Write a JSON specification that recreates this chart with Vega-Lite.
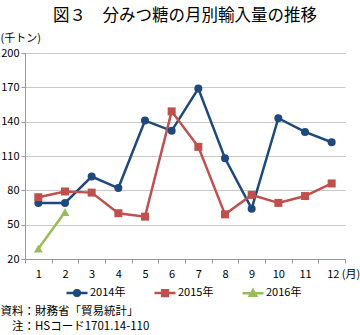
{
  "$schema": "https://vega.github.io/schema/vega-lite/v6.json",
  "width": 320,
  "height": 206,
  "autosize": "none",
  "padding": {"left": 25, "top": 53, "right": 15, "bottom": 76},
  "background": "white",
  "config": {"font": "Noto Sans CJK JP", "view": {"stroke": null}},
  "title": {"text": "図３　分みつ糖の月別輸入量の推移", "fontSize": 16.5, "fontWeight": "normal", "font": "Noto Sans CJK JP", "color": "#000", "anchor": "middle", "offset": 8},
  "data": {"values": [
    {"month": 1, "year": "2014年", "value": 69},
    {"month": 2, "year": "2014年", "value": 69},
    {"month": 3, "year": "2014年", "value": 92},
    {"month": 4, "year": "2014年", "value": 82},
    {"month": 5, "year": "2014年", "value": 141},
    {"month": 6, "year": "2014年", "value": 132},
    {"month": 7, "year": "2014年", "value": 169},
    {"month": 8, "year": "2014年", "value": 108},
    {"month": 9, "year": "2014年", "value": 64},
    {"month": 10, "year": "2014年", "value": 143},
    {"month": 11, "year": "2014年", "value": 131},
    {"month": 12, "year": "2014年", "value": 122},
    {"month": 1, "year": "2015年", "value": 74},
    {"month": 2, "year": "2015年", "value": 79},
    {"month": 3, "year": "2015年", "value": 78},
    {"month": 4, "year": "2015年", "value": 60},
    {"month": 5, "year": "2015年", "value": 57},
    {"month": 6, "year": "2015年", "value": 149},
    {"month": 7, "year": "2015年", "value": 118},
    {"month": 8, "year": "2015年", "value": 59},
    {"month": 9, "year": "2015年", "value": 76},
    {"month": 10, "year": "2015年", "value": 69},
    {"month": 11, "year": "2015年", "value": 75},
    {"month": 12, "year": "2015年", "value": 86},
    {"month": 1, "year": "2016年", "value": 29},
    {"month": 2, "year": "2016年", "value": 61}
  ]},
  "encoding": {
    "x": {
      "field": "month", "type": "ordinal",
      "scale": {"type": "band", "paddingInner": 0, "paddingOuter": 0},
      "axis": {
        "labelAngle": 0, "labelFontSize": 11, "labelColor": "#000", "labelPadding": 5,
        "labelExpr": "datum.value == 12 ? '12 (月)' : datum.label",
        "labelAlign": {"condition": {"test": "datum.value == 12", "value": "left"}, "value": "center"},
        "labelOffset": {"condition": {"test": "datum.value == 12", "value": -5}, "value": 0},
        "tickBand": "extent", "tickSize": 4, "tickColor": "#999", "domainColor": "#999", "grid": false,
        "title": ["資料：財務省「貿易統計」", "\u200b\u3000注：HSコード1701.14-110"],
        "titleFontSize": 11.5, "titleFontWeight": "normal", "titleColor": "#000",
        "titleAnchor": "start", "titleAlign": "left", "titleBaseline": "top",
        "titleX": -25, "titleY": 46, "titleLineHeight": 15
      }
    },
    "y": {
      "field": "value", "type": "quantitative",
      "scale": {"domain": [20, 200], "nice": false, "zero": false},
      "axis": {
        "values": [20, 50, 80, 110, 140, 170, 200],
        "labelFontSize": 11, "labelColor": "#000", "labelPadding": 2,
        "tickSize": 4, "tickColor": "#999", "domainColor": "#999",
        "gridColor": "#c8c8c8", "gridWidth": 1,
        "title": "(千トン)", "titleAngle": 0, "titleFontSize": 11, "titleFontWeight": "normal", "titleColor": "#000",
        "titleAlign": "left", "titleBaseline": "middle", "titleX": -25, "titleY": -15
      }
    },
    "color": {
      "field": "year", "type": "nominal",
      "scale": {"domain": ["2014年", "2015年", "2016年"], "range": ["#1F497D", "#C0504D", "#9BBB59"]},
      "legend": {
        "orient": "none", "legendX": 40, "legendY": 228, "direction": "horizontal", "title": null,
        "symbolSize": 441, "symbolType": "stroke", "labelFontSize": 11, "labelColor": "#000", "labelOffset": 1, "columnPadding": 23,
        "encode": {"symbols": {"update": {
          "shape": {"signal": "datum.value === '2014年' ? 'M-1,0H1M0.27,0A0.27,0.27 0 1,1 -0.27,0A0.27,0.27 0 1,1 0.27,0Z' : datum.value === '2015年' ? 'M-1,0H1M-0.27,-0.27H0.27V0.27H-0.27Z' : 'M-1,0H1M0,-0.3L0.3,0.24H-0.3Z'"},
          "fill": {"signal": "scale('color', datum.value)"},
          "stroke": {"signal": "scale('color', datum.value)"},
          "strokeWidth": {"value": 2.5},
          "opacity": {"value": 1},
          "fillOpacity": {"value": 1}
        }}}
      }
    }
  },
  "layer": [
    {"mark": {"type": "line", "strokeWidth": 2.5}},
    {"transform": [{"filter": "datum.year === '2014年'"}],
     "mark": {"type": "point", "shape": "circle", "filled": true, "opacity": 1, "size": 64}},
    {"transform": [{"filter": "datum.year === '2015年'"}],
     "mark": {"type": "point", "shape": "square", "filled": true, "opacity": 1, "size": 64}},
    {"transform": [{"filter": "datum.year === '2016年'"}],
     "mark": {"type": "point", "shape": "triangle-up", "filled": true, "opacity": 1, "size": 80}}
  ]
}
